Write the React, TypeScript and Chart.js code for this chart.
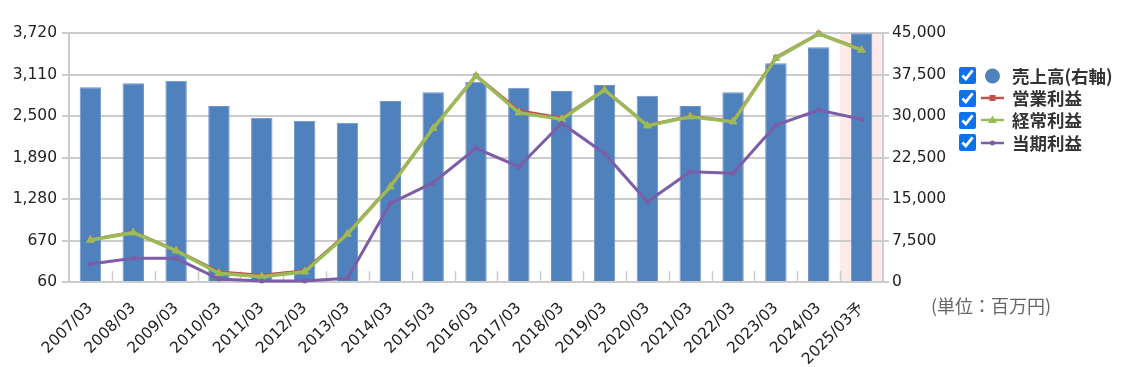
import React, { useEffect, useRef } from "react";
import { Chart, registerables } from "chart.js";

Chart.register(...registerables);

const categories = [
  "2007/03", "2008/03", "2009/03", "2010/03", "2011/03", "2012/03", "2013/03",
  "2014/03", "2015/03", "2016/03", "2017/03", "2018/03", "2019/03", "2020/03",
  "2021/03", "2022/03", "2023/03", "2024/03", "2025/03予",
];
// 売上高 (right axis)
const sales = [
  35180, 35900, 36380, 31800, 29690, 29150, 28790, 32700, 34280, 36200,
  35110, 34510, 35600, 33660, 31800, 34280, 39520, 42410, 44940,
];
// 営業利益 (left axis)
const operatingProfit = [
  682, 795, 525, 208, 160, 226, 778, 1472, 2326, 3092,
  2578, 2472, 2888, 2364, 2496, 2424, 3360, 3712, 3480,
];
// 経常利益 (left axis)
const ordinaryProfit = [
  677, 785, 520, 188, 138, 211, 765, 1461, 2319, 3088,
  2549, 2452, 2882, 2358, 2490, 2416, 3348, 3706, 3470,
];
// 当期利益 (left axis)
const netProfit = [
  325, 408, 408, 104, 75, 75, 114, 1217, 1520, 2025,
  1755, 2393, 1950, 1240, 1681, 1658, 2368, 2588, 2452,
];
const leftTicks = [60, 670, 1280, 1890, 2500, 3110, 3720];
const rightTicks = [0, 7500, 15000, 22500, 30000, 37500, 45000];

const legendItems = ["売上高(右軸)", "営業利益", "経常利益", "当期利益"];
const unitLabel = "(単位：百万円)";

const BLUE = "#4f81bd";
const RED = "#c0504d";
const GREEN = "#9bbb59";
const PURPLE = "#7b5ea7";
const GRID = "#cccccc";
const FONT = '"DejaVu Sans", "Noto Sans CJK JP", sans-serif';

const fmt = (v: number) => Number(v).toLocaleString("en-US");

const highlightPlugin = {
  id: "highlightLast",
  beforeDraw(chart: any) {
    const { ctx, chartArea, scales } = chart;
    const x = scales.x;
    const n = categories.length;
    const w = (chartArea.right - chartArea.left) / n;
    const cx = x.getPixelForValue(n - 1);
    ctx.save();
    ctx.fillStyle = "#fdeaea";
    ctx.fillRect(cx - w / 2, chartArea.top, chartArea.right - (cx - w / 2), chartArea.bottom - chartArea.top);
    ctx.restore();
  },
  beforeDatasetsDraw(chart: any) {
    const { ctx, chartArea, scales } = chart;
    const x = scales.x;
    const n = categories.length;
    ctx.save();
    ctx.strokeStyle = GRID;
    ctx.lineWidth = 1.5;
    for (let k = 1; k < n; k++) {
      const px = Math.round((x.getPixelForValue(k - 1) + x.getPixelForValue(k)) / 2) + 0.5;
      ctx.beginPath();
      ctx.moveTo(px, chartArea.bottom - 11);
      ctx.lineTo(px, chartArea.bottom);
      ctx.stroke();
    }
    ctx.restore();
  },
};

function ChartView() {
  const ref = useRef<HTMLCanvasElement | null>(null);
  useEffect(() => {
    if (!ref.current) return;
    const chart = new Chart(ref.current, {
      type: "bar",
      data: {
        labels: categories,
        datasets: [
          {
            type: "line",
            label: legendItems[3],
            data: netProfit,
            yAxisID: "y",
            borderColor: PURPLE,
            backgroundColor: PURPLE,
            borderWidth: 3,
            pointStyle: "circle",
            pointRadius: 2.5,
            pointBorderWidth: 0,
            tension: 0,
            clip: false,
            order: 1,
          } as any,
          {
            type: "line",
            label: legendItems[2],
            data: ordinaryProfit,
            yAxisID: "y",
            borderColor: GREEN,
            backgroundColor: GREEN,
            borderWidth: 3.5,
            pointStyle: "triangle",
            pointRadius: 4.5,
            pointBorderWidth: 1,
            tension: 0,
            clip: false,
            order: 2,
          } as any,
          {
            type: "line",
            label: legendItems[1],
            data: operatingProfit,
            yAxisID: "y",
            borderColor: RED,
            backgroundColor: RED,
            borderWidth: 3,
            pointStyle: "rect",
            pointRadius: 3,
            pointBorderWidth: 1,
            tension: 0,
            clip: false,
            order: 3,
          } as any,
          {
            type: "bar",
            label: legendItems[0],
            data: sales,
            yAxisID: "y1",
            backgroundColor: BLUE,
            borderColor: "#6f93c8",
            borderWidth: 1,
            barPercentage: 0.5,
            categoryPercentage: 1,
            order: 4,
          } as any,
        ],
      },
      options: {
        animation: false,
        responsive: false,
        maintainAspectRatio: false,
        layout: { padding: { top: 33, left: 0, right: 0, bottom: 0 } },
        plugins: {
          legend: { display: false },
          tooltip: { enabled: false },
        },
        scales: {
          x: {
            type: "category",
            grid: { display: false, drawTicks: false },
            border: { display: true, color: GRID, width: 2 },
            ticks: {
              minRotation: 45,
              maxRotation: 45,
              autoSkip: false,
              padding: 17,
              color: "#222",
              font: { family: FONT, size: 15.5 },
            },
            afterFit: (s: any) => {
              s.height = 85;
            },
          },
          y: {
            type: "linear",
            position: "left",
            min: leftTicks[0],
            max: leftTicks[leftTicks.length - 1],
            afterBuildTicks: (s: any) => {
              s.ticks = leftTicks.map((v) => ({ value: v }));
            },
            grid: { color: GRID, lineWidth: 2, tickLength: 7 },
            border: { display: true, color: GRID, width: 2 },
            ticks: {
              padding: 5,
              color: "#222",
              font: { family: FONT, size: 15.5 },
              callback: (v: any) => fmt(v),
            },
            afterFit: (s: any) => {
              s.width = 69;
            },
          },
          y1: {
            type: "linear",
            position: "right",
            min: rightTicks[0],
            max: rightTicks[rightTicks.length - 1],
            afterBuildTicks: (s: any) => {
              s.ticks = rightTicks.map((v) => ({ value: v }));
            },
            grid: { drawOnChartArea: false, color: GRID, lineWidth: 2, tickLength: 6 },
            border: { display: true, color: GRID, width: 2 },
            ticks: {
              padding: 3,
              color: "#222",
              font: { family: FONT, size: 15.5 },
              callback: (v: any) => fmt(v),
            },
            afterFit: (s: any) => {
              s.width = 77;
            },
          },
        },
      },
      plugins: [highlightPlugin],
    } as any);
    return () => chart.destroy();
  }, []);
  return <canvas ref={ref} width={960} height={367} style={{ display: "block" }} />;
}

function LegendSymbol({ kind }: { kind: number }) {
  if (kind === 0) {
    return (
      <svg width="24" height="18" viewBox="0 0 24 18">
        <circle cx="11.5" cy="9" r="7.5" fill={BLUE} />
      </svg>
    );
  }
  const color = kind === 1 ? RED : kind === 2 ? GREEN : PURPLE;
  return (
    <svg width="24" height="18" viewBox="0 0 24 18">
      <line x1="0" y1="9" x2="23" y2="9" stroke={color} strokeWidth="2.5" />
      {kind === 1 && <rect x="8.5" y="6" width="6" height="6" fill={color} />}
      {kind === 2 && <polygon points="11.5,4.5 16,12 7,12" fill={color} />}
      {kind === 3 && <circle cx="11.5" cy="9" r="2.5" fill={color} />}
    </svg>
  );
}

export default function App() {
  const rowsY = [75.5, 98, 120, 142.5];
  return (
    <div
      style={{
        position: "fixed",
        left: 0,
        top: 0,
        width: 1126,
        height: 367,
        background: "#fff",
        overflow: "hidden",
      }}
    >
      <div style={{ position: "absolute", left: 0, top: 0 }}>
        <ChartView />
      </div>
      {legendItems.map((name, i) => (
        <div
          key={name}
          style={{
            position: "absolute",
            left: 959,
            top: rowsY[i] - 11,
            height: 22,
            display: "flex",
            alignItems: "center",
            whiteSpace: "nowrap",
          }}
        >
          <input
            type="checkbox"
            checked
            readOnly
            style={{ width: 17, height: 17, margin: 0, accentColor: "#0b72ef" }}
          />
          <span style={{ marginLeft: 5, display: "flex" }}>
            <LegendSymbol kind={i} />
          </span>
          <span
            style={{
              marginLeft: 7,
              fontFamily: '"Noto Sans CJK JP", sans-serif',
              fontWeight: 700,
              fontSize: 17.5,
              color: "#333",
              lineHeight: "22px",
            }}
          >
            {name}
          </span>
        </div>
      ))}
      <div
        style={{
          position: "absolute",
          left: 931,
          top: 292,
          fontFamily: '"Noto Sans CJK JP", sans-serif',
          fontSize: 18,
          color: "#666",
          whiteSpace: "nowrap",
          lineHeight: "26px",
        }}
      >
        {unitLabel}
      </div>
    </div>
  );
}
